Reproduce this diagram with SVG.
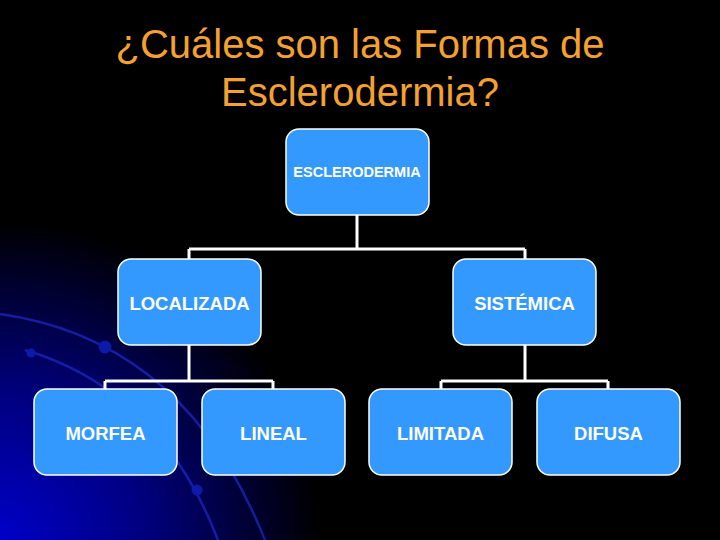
<svg xmlns="http://www.w3.org/2000/svg" width="720" height="540" viewBox="0 0 720 540">
  <defs>
    <radialGradient id="bg" cx="0" cy="540" r="320" gradientUnits="userSpaceOnUse">
      <stop offset="0" stop-color="#0000c8"/>
      <stop offset="0.45" stop-color="#000080"/>
      <stop offset="1" stop-color="#000000"/>
    </radialGradient>
    <style>
      .title { font-family: "Liberation Sans", Arial, sans-serif; font-size: 40px; fill: #f5a130; text-anchor: middle; }
      .box { fill: #3399ff; stroke: #ffffff; stroke-width: 1.5; }
      .lbl { font-family: "Liberation Sans", Arial, sans-serif; font-weight: bold; font-size: 18.5px; fill: #ffffff; text-anchor: middle; }
      .lbl-s { font-size: 14.5px; }
      .conn { fill: none; stroke: #ffffff; stroke-width: 3; }
      .arc { fill: none; stroke: #1c24b8; stroke-width: 2.5; opacity: 0.8; }
      .dot { fill: #0b1aa8; }
    </style>
  </defs>

  <rect width="720" height="540" fill="#000000"/>
  <rect width="720" height="540" fill="url(#bg)"/>

  <g id="decor">
    <path class="arc" d="M 0 314 Q 185 340 265 540"/>
    <path class="arc" d="M 25 350 Q 160 390 218 540"/>
    <circle class="dot" cx="31" cy="353" r="4.5"/>
    <circle class="dot" cx="105" cy="347" r="6.5"/>
    <circle class="dot" cx="197" cy="490" r="5.5"/>
  </g>

  <g id="title">
    <text class="title" x="360" y="58">¿Cuáles son las Formas de</text>
    <text class="title" x="360" y="106">Esclerodermia?</text>
  </g>

  <g id="connectors">
    <path class="conn" d="M 357 215 V 249 M 189 249 H 525 M 189 249 V 259 M 525 249 V 259"/>
    <path class="conn" d="M 189 345 V 381 M 105 381 H 273 M 105 381 V 389 M 273 381 V 389"/>
    <path class="conn" d="M 525 345 V 381 M 441 381 H 608 M 441 381 V 389 M 608 381 V 389"/>
  </g>

  <g id="node-esclerodermia">
    <rect class="box" x="286" y="129" width="143" height="86" rx="13"/>
    <text class="lbl lbl-s" x="357" y="177">ESCLERODERMIA</text>
  </g>
  <g id="node-localizada">
    <rect class="box" x="118" y="259" width="143" height="86" rx="13"/>
    <text class="lbl" x="189.5" y="310">LOCALIZADA</text>
  </g>
  <g id="node-sistemica">
    <rect class="box" x="453" y="259" width="143" height="86" rx="13"/>
    <text class="lbl" x="524.5" y="310">SISTÉMICA</text>
  </g>
  <g id="node-morfea">
    <rect class="box" x="34" y="389" width="143" height="86" rx="13"/>
    <text class="lbl" x="105.5" y="440">MORFEA</text>
  </g>
  <g id="node-lineal">
    <rect class="box" x="202" y="389" width="143" height="86" rx="13"/>
    <text class="lbl" x="273.5" y="440">LINEAL</text>
  </g>
  <g id="node-limitada">
    <rect class="box" x="369" y="389" width="143" height="86" rx="13"/>
    <text class="lbl" x="440.5" y="440">LIMITADA</text>
  </g>
  <g id="node-difusa">
    <rect class="box" x="537" y="389" width="143" height="86" rx="13"/>
    <text class="lbl" x="608.5" y="440">DIFUSA</text>
  </g>
</svg>
